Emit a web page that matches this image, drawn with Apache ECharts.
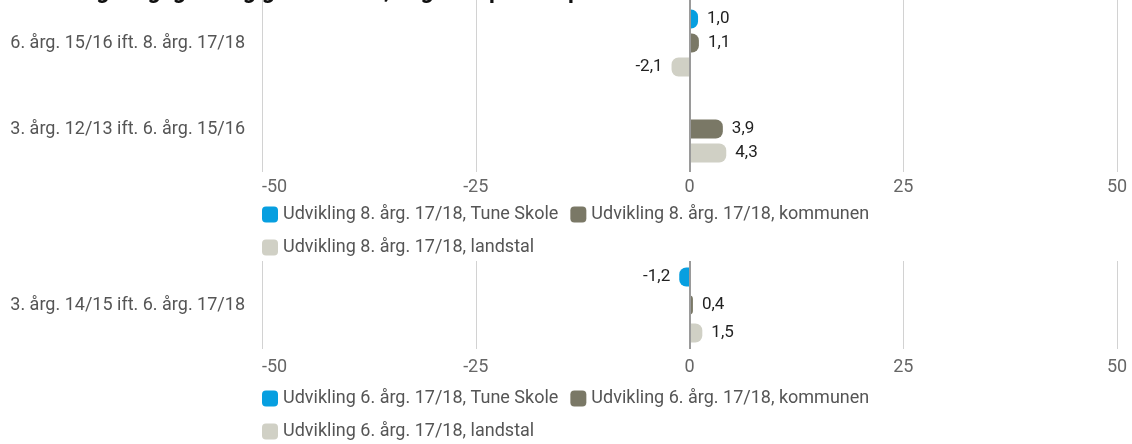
<!DOCTYPE html>
<html>
<head>
<meta charset="utf-8">
<script src="https://cdn.jsdelivr.net/npm/echarts@6/dist/echarts.min.js"></script>
<style>
html,body{margin:0;padding:0;background:#fff;}
#c{width:1132px;height:444px;}
</style>
</head>
<body>
<div id="c"></div>
<script>
// ---- data ----
var titleText = 'Udvikling i faglighed og gennemsnit, angivet i procentpoint';
var categories1 = ['6. årg. 15/16 ift. 8. årg. 17/18', '3. årg. 12/13 ift. 6. årg. 15/16'];
var names1 = ['Udvikling 8. årg. 17/18, Tune Skole', 'Udvikling 8. årg. 17/18, kommunen', 'Udvikling 8. årg. 17/18, landstal'];
var tune1 = [1.0, null];
var kommune1 = [1.1, 3.9];
var land1 = [-2.1, 4.3];

var categories2 = ['3. årg. 14/15 ift. 6. årg. 17/18'];
var names2 = ['Udvikling 6. årg. 17/18, Tune Skole', 'Udvikling 6. årg. 17/18, kommunen', 'Udvikling 6. årg. 17/18, landstal'];
var tune2 = [-1.2];
var kommune2 = [0.4];
var land2 = [1.5];

var xMin = -50, xMax = 50, xInterval = 25;

var colors = ['#079fe0', '#7a7866', '#d0d0c5'];
var FONT = 'Roboto';

function items(arr) {
  return arr.map(function (v) {
    if (v === null) return null;
    var neg = v < 0;
    return {
      value: v,
      itemStyle: { borderRadius: neg ? [7, 0, 0, 7] : [0, 7, 7, 0] },
      label: { position: neg ? 'left' : 'right' }
    };
  });
}

function mkSeries(name, arr, idx, color, barW, gap, catGap, withZero) {
  var s = {
    type: 'bar',
    name: name,
    xAxisIndex: idx,
    yAxisIndex: idx,
    data: items(arr),
    barWidth: barW,
    barGap: gap,
    barCategoryGap: catGap,
    itemStyle: { color: color },
    label: {
      show: true,
      distance: 9,
      fontFamily: FONT,
      fontSize: 17,
      color: '#222',
      formatter: function (p) { return p.value.toFixed(1).replace('.', ','); }
    },
    emphasis: { disabled: true },
    animation: false
  };
  if (withZero) {
    s.markLine = {
      silent: true,
      symbol: 'none',
      label: { show: false },
      lineStyle: { color: '#9a9a9a', width: 2, type: 'solid' },
      data: [{ xAxis: 0 }],
      animation: false
    };
  }
  return s;
}

function xAxisCfg(idx, margin) {
  return {
    type: 'value', gridIndex: idx, min: xMin, max: xMax, interval: xInterval,
    axisLine: { show: false }, axisTick: { show: false },
    axisLabel: { fontFamily: FONT, fontSize: 18, color: '#666', margin: margin, alignMinLabel: 'left' },
    splitLine: { lineStyle: { color: '#d2d2d2', width: 1 } }
  };
}
function yAxisCfg(idx, cats) {
  return {
    type: 'category', gridIndex: idx, data: cats, inverse: true,
    axisLine: { show: false }, axisTick: { show: false },
    axisLabel: { fontFamily: FONT, fontSize: 18, color: '#555', margin: 17 }
  };
}
function legendCfg(names, top) {
  return {
    data: names,
    left: 262, top: top, width: 720,
    padding: 0,
    orient: 'horizontal',
    itemWidth: 16, itemHeight: 16, itemGap: 12,
    icon: 'roundRect',
    textStyle: { fontFamily: FONT, fontSize: 18, color: '#555', lineHeight: 21 },
    selectedMode: false
  };
}

var chart = echarts.init(document.getElementById('c'), null, { renderer: 'canvas' });
chart.setOption({
  backgroundColor: '#fff',
  animation: false,
  title: {
    text: titleText, left: 8, top: -24,
    textStyle: { fontFamily: FONT, fontSize: 23, fontWeight: 'bold', color: '#111' }
  },
  grid: [
    { left: 262, right: 15, top: -2, height: 174, containLabel: false },
    { left: 262, right: 15, top: 261, height: 88, containLabel: false }
  ],
  xAxis: [xAxisCfg(0, 6), xAxisCfg(1, 9)],
  yAxis: [yAxisCfg(0, categories1), yAxisCfg(1, categories2)],
  legend: [legendCfg(names1, 204), legendCfg(names2, 388)],
  series: [
    mkSeries(names1[0], tune1, 0, colors[0], 19, '26%', '23%', true),
    mkSeries(names1[1], kommune1, 0, colors[1], 19, '26%', '23%', false),
    mkSeries(names1[2], land1, 0, colors[2], 19, '26%', '23%', false),
    mkSeries(names2[0], tune2, 1, colors[0], 19, '47%', '15%', true),
    mkSeries(names2[1], kommune2, 1, colors[1], 19, '47%', '15%', false),
    mkSeries(names2[2], land2, 1, colors[2], 19, '47%', '15%', false)
  ]
});
</script>
</body>
</html>
